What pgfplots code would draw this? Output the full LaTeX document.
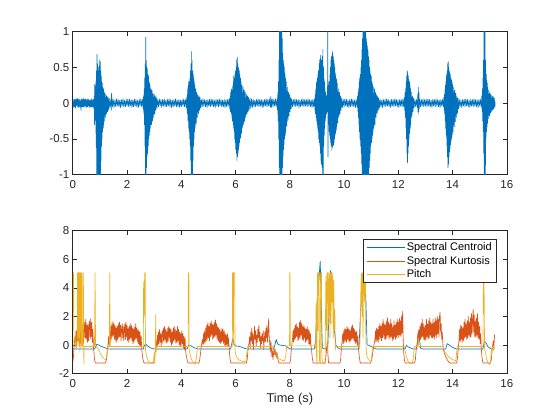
\documentclass[border=0pt]{standalone}
\usepackage{fontspec}
\setmainfont{Liberation Sans}
\usepackage{pgfplots}
\pgfplotsset{compat=1.18}
\definecolor{mblue}{rgb}{0,0.447,0.741}
\definecolor{morange}{rgb}{0.85,0.325,0.098}
\definecolor{myellow}{rgb}{0.929,0.694,0.125}
\definecolor{axc}{rgb}{0.15,0.15,0.15}
\pgfplotsset{
  mlab/.style={
    scale only axis, width=434pt, height=143.3pt,
    xmin=0, xmax=16, xtick={0,2,...,16},
    axis line style={draw=axc, line width=0.6pt},
    tick style={draw=axc, line width=0.6pt},
    major tick length=4.3pt,
    tick label style={font=\fontsize{11.5}{13}\selectfont, text=axc},
    /pgf/number format/assume math mode=true,
    xticklabel style={yshift=-2.5pt},
    every axis plot/.append style={line width=0.65pt, line join=round},
    clip=true,
  }
}
\begin{document}
\begin{tikzpicture}
\path[use as bounding box] (0,0) rectangle (560pt,420pt);
\begin{axis}[mlab, at={(72.8pt,245.2pt)}, anchor=south west,
  ymin=-1, ymax=1, ytick={-1,-0.5,0,0.5,1}, yticklabels={-1,-0.5,0,0.5,1}]
\addplot[mblue] coordinates {
(0,0.02)(0.02,-0.06)(0.04,0.06)(0.06,-0.05)(0.08,0.05)(0.1,-0.07)(0.12,0.06)(0.14,-0.04)(0.16,0.07)(0.18,-0.05)(0.2,0.05)(0.22,-0.06)(0.24,0.06)(0.26,-0.05)(0.28,0.04)(0.3,-0.1)(0.32,0.06)(0.34,-0.05)(0.36,0.05)(0.38,-0.06)(0.4,0.07)(0.42,-0.05)(0.44,0.05)(0.46,-0.04)(0.48,0.06)(0.5,-0.06)(0.52,0.05)(0.54,-0.05)(0.56,0.06)(0.58,-0.04)(0.6,0.05)(0.62,-0.06)(0.64,0.04)(0.66,-0.05)(0.68,0.06)(0.7,-0.05)(0.72,0.05)(0.74,-0.06)(0.76,0.05)
(0.78,-0.08)(0.79,0.1)(0.8,-0.3)(0.81,0.26)(0.82,-0.2)(0.83,0.15)(0.84,-0.25)(0.85,0.3)(0.86,-0.6)(0.87,0.45)(0.88,-1.2)(0.89,0.68)(0.9,-1.2)(0.91,0.55)(0.92,-1.2)(0.93,0.5)(0.94,-1.2)(0.95,0.45)(0.96,-1.2)(0.97,0.52)(0.98,-1.2)(0.99,0.6)(1.0,-1.2)(1.01,0.58)(1.02,-1.1)(1.03,0.45)(1.04,-0.8)(1.05,0.38)(1.06,-0.6)(1.07,0.3)(1.08,-0.5)(1.09,0.28)(1.1,-0.4)(1.11,0.22)(1.12,-0.35)(1.13,0.2)(1.14,-0.3)(1.15,0.16)(1.16,-0.25)(1.18,0.14)(1.2,-0.2)(1.22,0.12)(1.24,-0.15)(1.26,0.1)(1.28,-0.12)(1.3,0.08)(1.32,-0.1)(1.34,0.07)
(1.37,-0.06)(1.4,0.05)(1.42,-0.1)(1.43,0.14)(1.46,-0.05)(1.49,0.05)(1.52,-0.06)(1.55,0.04)(1.58,-0.05)(1.61,0.06)(1.64,-0.04)(1.67,0.05)(1.7,-0.05)(1.73,0.04)(1.76,-0.06)(1.79,0.05)(1.82,-0.04)(1.85,0.06)(1.88,-0.05)(1.91,0.04)(1.94,-0.05)(1.97,0.05)(2.0,-0.04)(2.03,0.06)(2.06,-0.05)(2.09,0.05)(2.12,-0.04)(2.15,0.05)(2.18,-0.06)(2.21,0.04)(2.24,-0.05)(2.27,0.06)(2.3,-0.04)(2.33,0.05)(2.36,-0.05)(2.39,0.04)(2.42,-0.06)(2.45,0.05)(2.48,-0.04)(2.51,0.06)(2.54,-0.05)(2.57,0.05)
(2.6,-0.08)(2.61,0.1)(2.62,-0.15)(2.63,0.2)(2.64,-0.3)(2.65,0.35)(2.66,-0.6)(2.67,0.55)(2.68,-1.2)(2.69,0.92)(2.7,-1.2)(2.71,0.6)(2.72,-0.9)(2.73,0.5)(2.74,-0.75)(2.75,0.48)(2.76,-0.7)(2.77,0.4)(2.78,-0.6)(2.79,0.38)(2.8,-0.5)(2.81,0.3)(2.82,-0.45)(2.83,0.28)(2.84,-0.4)(2.85,0.25)(2.86,-0.35)(2.88,0.2)(2.9,-0.3)(2.92,0.18)(2.94,-0.25)(2.96,0.14)(2.98,-0.2)(3.0,0.12)(3.02,-0.15)(3.04,0.1)(3.06,-0.1)(3.08,0.08)(3.1,-0.07)
(3.13,0.05)(3.16,-0.05)(3.19,0.06)(3.22,-0.04)(3.25,0.05)(3.28,-0.06)(3.31,0.05)(3.34,-0.04)(3.37,0.06)(3.4,-0.05)(3.43,0.04)(3.46,-0.05)(3.49,0.05)(3.52,-0.04)(3.55,0.06)(3.58,-0.05)(3.61,0.05)(3.64,-0.06)(3.67,0.04)(3.7,-0.05)(3.73,0.05)(3.76,-0.04)(3.79,0.06)(3.82,-0.05)(3.85,0.04)(3.88,-0.05)(3.91,0.05)(3.94,-0.06)(3.97,0.04)(4.0,-0.05)(4.03,0.05)(4.06,-0.04)(4.09,0.06)(4.12,-0.05)(4.15,0.05)(4.18,-0.06)
(4.2,0.08)(4.21,-0.1)(4.22,0.12)(4.23,-0.15)(4.24,0.2)(4.25,-0.25)(4.26,0.3)(4.27,-0.35)(4.28,0.25)(4.29,-0.4)(4.3,0.3)(4.31,-0.5)(4.32,0.35)(4.33,-0.6)(4.34,0.45)(4.35,-0.8)(4.36,0.55)(4.37,-1.2)(4.38,0.72)(4.39,-1.2)(4.4,0.6)(4.41,-1.2)(4.42,0.45)(4.43,-0.8)(4.44,0.4)(4.45,-0.6)(4.46,0.35)(4.47,-0.5)(4.48,0.3)(4.49,-0.4)(4.5,0.25)(4.51,-0.35)(4.53,0.2)(4.55,-0.28)(4.57,0.15)(4.59,-0.2)(4.61,0.12)(4.63,-0.15)(4.65,0.1)(4.67,-0.1)(4.69,0.08)(4.71,-0.07)
(4.74,0.05)(4.77,-0.05)(4.8,0.06)(4.83,-0.04)(4.86,0.05)(4.89,-0.05)(4.92,0.04)(4.95,-0.06)(4.98,0.05)(5.01,-0.04)(5.04,0.05)(5.07,-0.05)(5.1,0.06)(5.13,-0.04)(5.16,0.05)(5.19,-0.05)(5.22,0.04)(5.25,-0.06)(5.28,0.05)(5.31,-0.04)(5.34,0.05)(5.37,-0.05)(5.4,0.06)(5.43,-0.04)(5.46,0.05)(5.49,-0.05)(5.52,0.04)(5.55,-0.05)(5.58,0.05)(5.61,-0.06)(5.64,0.04)(5.67,-0.05)(5.7,0.05)(5.73,-0.04)(5.76,0.06)
(5.79,-0.08)(5.8,0.1)(5.81,-0.12)(5.82,0.15)(5.83,-0.12)(5.84,0.2)(5.85,-0.15)(5.86,0.18)(5.87,-0.2)(5.88,0.15)(5.89,-0.25)(5.9,0.25)(5.91,-0.3)(5.92,0.38)(5.93,-0.35)(5.94,0.3)(5.95,-0.4)(5.96,0.35)(5.97,-0.5)(5.98,0.4)(5.99,-0.55)(6.0,0.45)(6.01,-0.65)(6.02,0.5)(6.03,-0.7)(6.04,0.6)(6.05,-0.8)(6.06,0.64)(6.07,-0.75)(6.08,0.55)(6.09,-0.7)(6.1,0.5)(6.11,-0.65)(6.12,0.48)(6.13,-0.6)(6.14,0.45)(6.15,-0.55)(6.16,0.4)(6.17,-0.5)(6.18,0.35)(6.19,-0.48)(6.2,0.3)(6.22,-0.42)(6.24,0.25)(6.26,-0.35)(6.28,0.22)(6.3,-0.3)(6.32,0.18)(6.34,-0.25)(6.36,0.15)(6.38,-0.2)(6.4,0.12)(6.42,-0.15)(6.44,0.1)(6.46,-0.12)(6.48,0.08)(6.5,-0.1)(6.53,0.07)(6.56,-0.07)(6.59,0.06)(6.62,-0.06)
(6.65,0.05)(6.68,-0.05)(6.71,0.04)(6.74,-0.05)(6.77,0.05)(6.8,-0.04)(6.83,0.06)(6.86,-0.05)(6.89,0.05)(6.92,-0.04)(6.95,0.05)(6.98,-0.06)(7.01,0.04)(7.04,-0.05)(7.07,0.05)(7.1,-0.04)(7.13,0.06)(7.16,-0.05)(7.19,0.05)(7.22,-0.04)(7.25,0.06)(7.28,-0.06)(7.3,0.09)(7.32,-0.06)(7.35,0.06)(7.38,-0.05)(7.41,0.05)(7.44,-0.04)(7.47,0.06)(7.5,-0.05)(7.53,0.06)
(7.55,-0.1)(7.56,0.15)(7.57,-0.25)(7.58,0.3)(7.59,-0.5)(7.6,0.6)(7.61,-0.9)(7.62,1.2)(7.63,-1.2)(7.64,1.2)(7.65,-1.2)(7.66,1.2)(7.67,-1.2)(7.68,1.2)(7.69,-1.2)(7.7,1.2)(7.71,-1.2)(7.72,0.9)(7.73,-0.9)(7.74,0.7)(7.75,-0.75)(7.76,0.6)(7.77,-0.65)(7.78,0.55)(7.79,-0.58)(7.8,0.5)(7.81,-0.5)(7.82,0.42)(7.83,-0.45)(7.84,0.35)(7.85,-0.4)(7.87,0.3)(7.89,-0.32)(7.91,0.22)(7.93,-0.25)(7.95,0.15)(7.97,-0.18)(7.99,0.12)(8.01,-0.12)(8.03,0.08)(8.05,-0.08)(8.07,0.06)
(8.1,-0.05)(8.13,0.05)(8.16,-0.04)(8.19,0.06)(8.22,-0.05)(8.25,0.05)(8.28,-0.04)(8.31,0.05)(8.34,-0.06)(8.37,0.04)(8.4,-0.05)(8.43,0.05)(8.46,-0.04)(8.49,0.06)(8.52,-0.05)(8.55,0.05)(8.58,-0.04)(8.61,0.05)(8.64,-0.05)(8.67,0.06)(8.7,-0.04)(8.73,0.05)(8.76,-0.05)(8.79,0.04)(8.82,-0.06)(8.85,0.05)(8.88,-0.05)(8.91,0.06)
(8.93,-0.1)(8.94,0.12)(8.95,-0.15)(8.96,0.2)(8.97,-0.2)(8.98,0.3)(8.99,-0.25)(9.0,0.28)(9.01,-0.3)(9.02,0.35)(9.03,-0.35)(9.04,0.4)(9.05,-0.4)(9.06,0.45)(9.07,-0.5)(9.08,0.55)(9.09,-0.55)(9.1,0.6)(9.11,-0.6)(9.12,0.62)(9.13,-0.7)(9.14,0.67)(9.15,-0.8)(9.16,0.55)(9.17,-0.85)(9.18,0.6)(9.19,-0.9)(9.2,0.65)(9.21,-1.2)(9.22,0.75)(9.23,-1.2)(9.24,0.5)(9.25,-0.6)(9.26,0.35)(9.27,-0.45)(9.28,0.3)(9.29,-0.35)(9.3,0.2)(9.31,-0.25)(9.32,0.15)(9.33,-0.2)(9.34,0.12)(9.35,-0.15)(9.36,0.1)(9.37,-0.12)(9.38,0.08)(9.39,-0.1)(9.4,1.2)(9.41,-0.75)(9.42,0.3)
(9.43,-0.3)(9.44,0.25)(9.45,-0.4)(9.46,0.3)(9.47,-0.45)(9.48,0.4)(9.49,-0.5)(9.5,0.5)(9.51,-0.55)(9.52,0.6)(9.53,-0.6)(9.54,0.65)(9.55,-0.66)(9.56,0.7)(9.57,-0.62)(9.58,0.72)(9.59,-0.6)(9.6,0.65)(9.61,-0.58)(9.62,0.6)(9.63,-0.55)(9.64,0.55)(9.65,-0.5)(9.66,0.5)(9.67,-0.45)(9.68,0.42)(9.69,-0.42)(9.7,0.38)(9.71,-0.38)(9.72,0.33)(9.73,-0.33)(9.75,0.28)(9.77,-0.28)(9.79,0.2)(9.81,-0.2)(9.83,0.15)(9.85,-0.15)(9.87,0.1)(9.89,-0.1)(9.91,0.07)
(9.94,-0.06)(9.97,0.05)(10.0,-0.05)(10.03,0.06)(10.06,-0.04)(10.09,0.05)(10.12,-0.05)(10.15,0.04)(10.18,-0.06)(10.21,0.05)(10.24,-0.05)(10.27,0.06)(10.3,-0.04)(10.33,0.05)(10.36,-0.05)(10.39,0.04)(10.42,-0.06)(10.45,0.05)(10.48,-0.05)
(10.5,0.1)(10.51,-0.12)(10.52,0.15)(10.53,-0.2)(10.54,0.2)(10.55,-0.3)(10.56,0.3)(10.57,-0.4)(10.58,0.35)(10.59,-0.5)(10.6,0.4)(10.61,-0.6)(10.62,0.5)(10.63,-0.7)(10.64,0.6)(10.65,-0.85)(10.66,0.75)(10.67,-1.2)(10.68,0.9)(10.69,-1.2)(10.7,1.2)(10.71,-1.2)(10.72,1.2)(10.73,-1.2)(10.74,1.2)(10.75,-1.2)(10.76,1.2)(10.77,-1.2)(10.78,1.1)(10.79,-1.2)(10.8,1.0)(10.81,-1.2)(10.82,0.9)(10.83,-1.2)(10.84,0.85)(10.85,-1.2)(10.86,0.8)(10.87,-1.2)(10.88,0.75)(10.89,-1.2)(10.9,0.65)(10.91,-1.2)(10.92,0.6)(10.93,-0.9)(10.94,0.5)(10.95,-0.8)(10.96,0.45)(10.97,-0.7)(10.98,0.4)(10.99,-0.6)(11.0,0.38)(11.01,-0.55)(11.02,0.3)(11.03,-0.5)(11.04,0.28)(11.05,-0.45)(11.06,0.25)(11.07,-0.4)(11.08,0.22)(11.1,-0.35)(11.12,0.2)(11.14,-0.3)(11.16,0.15)(11.18,-0.2)(11.2,0.12)(11.22,-0.15)(11.24,0.1)(11.26,-0.1)(11.28,0.07)(11.3,-0.07)
(11.33,0.05)(11.36,-0.05)(11.39,0.04)(11.42,-0.06)(11.45,0.05)(11.48,-0.04)(11.51,0.05)(11.54,-0.05)(11.57,0.06)(11.6,-0.04)(11.63,0.05)(11.66,-0.05)(11.69,0.04)(11.72,-0.06)(11.75,0.05)(11.78,-0.04)(11.81,0.05)(11.84,-0.05)(11.87,0.06)(11.9,-0.04)(11.93,0.05)(11.96,-0.05)(11.99,0.04)(12.02,-0.06)(12.05,0.05)(12.08,-0.04)(12.11,0.05)(12.14,-0.05)(12.17,0.06)(12.2,-0.05)
(12.23,0.08)(12.24,-0.1)(12.25,0.15)(12.26,-0.2)(12.27,0.2)(12.28,-0.35)(12.29,0.3)(12.3,-0.5)(12.31,0.38)(12.32,-0.7)(12.33,0.45)(12.34,-0.83)(12.35,0.42)(12.36,-0.7)(12.37,0.38)(12.38,-0.6)(12.39,0.33)(12.4,-0.5)(12.41,0.3)(12.42,-0.42)(12.43,0.25)(12.44,-0.35)(12.45,0.2)(12.46,-0.3)(12.48,0.15)(12.5,-0.2)(12.52,0.1)(12.54,-0.12)(12.56,0.07)(12.58,-0.07)
(12.61,0.05)(12.64,-0.05)(12.67,0.05)(12.7,-0.06)(12.72,0.12)(12.73,-0.15)(12.74,0.22)(12.75,-0.12)(12.76,0.15)(12.77,-0.08)(12.79,0.06)(12.82,-0.05)(12.85,0.05)(12.88,-0.04)(12.91,0.06)(12.94,-0.05)(12.97,0.05)(13.0,-0.04)(13.03,0.05)(13.06,-0.05)(13.09,0.06)(13.12,-0.04)(13.15,0.05)(13.18,-0.05)(13.21,0.04)(13.24,-0.06)(13.27,0.05)(13.3,-0.04)(13.33,0.05)(13.36,-0.05)(13.39,0.06)(13.42,-0.04)(13.45,0.05)(13.48,-0.05)(13.51,0.04)(13.54,-0.06)(13.57,0.05)(13.6,-0.04)(13.63,0.05)(13.66,-0.05)
(13.68,0.08)(13.69,-0.1)(13.7,0.12)(13.71,-0.15)(13.72,0.18)(13.73,-0.25)(13.74,0.25)(13.75,-0.35)(13.76,0.3)(13.77,-0.45)(13.78,0.4)(13.79,-0.6)(13.8,0.45)(13.81,-0.75)(13.82,0.55)(13.83,-0.9)(13.84,0.58)(13.85,-0.85)(13.86,0.5)(13.87,-0.75)(13.88,0.45)(13.89,-0.68)(13.9,0.42)(13.91,-0.62)(13.92,0.4)(13.93,-0.58)(13.94,0.35)(13.95,-0.52)(13.96,0.32)(13.97,-0.48)(13.98,0.3)(13.99,-0.44)(14.0,0.26)(14.02,-0.4)(14.04,0.22)(14.06,-0.33)(14.08,0.18)(14.1,-0.26)(14.12,0.14)(14.14,-0.2)(14.16,0.1)(14.18,-0.14)(14.2,0.07)(14.22,-0.08)
(14.25,0.05)(14.28,-0.05)(14.31,0.04)(14.34,-0.06)(14.37,0.05)(14.4,-0.04)(14.43,0.05)(14.46,-0.05)(14.49,0.06)(14.52,-0.04)(14.55,0.05)(14.58,-0.05)(14.61,0.04)(14.64,-0.06)(14.67,0.05)(14.7,-0.04)(14.73,0.05)(14.76,-0.05)(14.79,0.06)(14.82,-0.04)(14.85,0.05)(14.88,-0.05)(14.91,0.04)(14.94,-0.06)(14.97,0.05)(15.0,-0.04)(15.03,0.05)(15.06,-0.05)
(15.08,0.1)(15.09,-0.12)(15.1,0.2)(15.11,-0.25)(15.12,0.35)(15.13,-0.4)(15.14,0.6)(15.15,-0.7)(15.16,1.2)(15.17,-1.2)(15.18,1.2)(15.19,-1.2)(15.2,1.2)(15.21,-1.2)(15.22,0.6)(15.23,-0.5)(15.24,0.4)(15.25,-0.4)(15.26,0.32)(15.27,-0.33)(15.28,0.28)(15.29,-0.28)(15.3,0.22)(15.32,-0.22)(15.34,0.18)(15.36,-0.18)(15.38,0.14)(15.4,-0.14)(15.42,0.12)(15.44,-0.12)(15.46,0.1)(15.48,-0.1)(15.5,0.09)(15.52,-0.08)(15.54,0.07)(15.56,-0.06)(15.57,0.02)
};
\end{axis}
\begin{axis}[mlab, at={(72.8pt,46.2pt)}, anchor=south west,
  ymin=-2, ymax=8, ytick={-2,0,2,4,6,8}, yticklabels={-2,0,2,4,6,8},
  xlabel={Time (s)},
  xlabel style={font=\fontsize{12.8}{14}\selectfont, text=axc, yshift=2pt},
  legend style={at={(0.977,0.941)}, anchor=north east, draw=axc, line width=0.5pt,
    font=\fontsize{11}{13}\selectfont, inner xsep=3pt, inner ysep=2pt,
    row sep=0pt, nodes={inner sep=1.8pt}},
  legend cell align=left,
  legend image code/.code={\draw[#1, line width=0.6pt] (0pt,0pt) -- (38pt,0pt);}]
\addplot[mblue] coordinates {
(0,-0.27)(0.8,-0.27)(0.85,-0.1)(0.88,0.05)(0.95,0.02)(1.0,-0.05)(1.1,-0.12)(1.2,-0.2)(1.3,-0.26)(1.4,-0.27)(2.6,-0.27)(2.64,0.0)(2.7,0.05)(2.75,-0.05)(2.85,-0.18)(2.95,-0.25)(3.05,-0.27)(4.22,-0.27)(4.26,0.0)(4.32,0.0)(4.4,-0.1)(4.5,-0.2)(4.6,-0.26)(4.7,-0.27)(5.82,-0.27)(5.86,0.1)(5.9,0.45)(5.94,0.1)(6.0,-0.05)(6.1,-0.08)(6.2,-0.12)(6.3,-0.2)(6.4,-0.26)(6.5,-0.27)(7.4,-0.27)(7.45,0.0)(7.5,0.4)(7.53,0.2)(7.57,0.05)(7.65,0.0)(7.75,-0.02)(7.85,-0.05)(7.95,-0.2)(8.02,-0.27)(8.9,-0.27)(8.95,0.3)(9.0,2.5)(9.03,4.0)(9.07,4.5)(9.1,5.3)(9.12,5.85)(9.15,4.0)(9.18,1.0)(9.2,-0.2)(9.3,-0.27)(9.4,-0.2)(9.45,2.5)(9.48,4.8)(9.5,5.2)(9.53,5.0)(9.56,4.7)(9.6,3.0)(9.65,1.0)(9.7,0.0)(9.78,-0.2)(9.85,-0.27)(10.55,-0.27)(10.6,2.0)(10.65,3.5)(10.7,4.6)(10.75,4.8)(10.8,3.5)(10.85,0.0)(10.9,0.0)(11.0,-0.1)(11.1,-0.2)(11.2,-0.27)(12.25,-0.27)(12.3,0.0)(12.35,-0.1)(12.45,-0.2)(12.55,-0.27)(12.68,-0.27)(12.72,0.5)(12.75,1.0)(12.78,0.4)(12.82,-0.2)(12.9,-0.27)(13.75,-0.27)(13.8,0.1)(13.85,0.05)(13.95,-0.1)(14.05,-0.2)(14.15,-0.27)(15.12,-0.27)(15.17,0.25)(15.22,0.2)(15.3,-0.1)(15.4,-0.25)(15.55,-0.27)
};
\addlegendentry{Spectral Centroid}
\addplot[morange] coordinates {
(0,-1.2)(0.02,-0.9)(0.04,-0.3)(0.06,0.2)(0.08,0.6)
(0.1,0.2)(0.12,1.0)(0.14,0.0)(0.16,1.1)(0.18,0.3)(0.2,1.3)(0.22,0.4)(0.24,-0.1)(0.26,0.9)(0.28,0.1)(0.3,1.2)(0.32,0.3)(0.34,1.5)(0.36,0.4)(0.38,1.2)(0.4,0.1)(0.42,1.0)(0.44,1.6)(0.46,0.5)(0.48,1.8)(0.5,0.4)(0.52,1.4)(0.54,0.2)(0.56,1.5)(0.58,0.3)(0.6,1.3)(0.62,1.7)(0.64,0.4)(0.66,1.85)(0.68,0.6)(0.7,1.6)(0.72,0.2)(0.74,1.1)(0.76,-0.1)(0.78,-0.5)(0.8,-1.0)(0.83,-1.25)
(1.2,-1.25)(1.24,-1.0)(1.27,-0.4)(1.3,0.1)
(1.32,0.6)(1.34,0.0)(1.36,1.0)(1.38,0.2)(1.4,1.3)(1.42,0.4)(1.44,1.5)(1.46,0.6)(1.48,1.65)(1.5,0.7)(1.52,1.5)(1.54,0.4)(1.56,1.4)(1.58,0.3)(1.6,1.2)(1.62,0.2)(1.64,1.3)(1.66,0.4)(1.68,1.5)(1.7,0.5)(1.72,1.6)(1.74,0.6)(1.76,1.4)(1.78,0.3)(1.8,1.2)(1.82,1.5)(1.84,0.5)(1.86,1.3)(1.88,0.3)(1.9,1.1)(1.92,1.5)(1.94,0.4)(1.96,1.6)(1.98,0.6)(2.0,1.4)(2.02,0.3)(2.04,1.2)(2.06,0.2)(2.08,1.3)(2.1,0.4)(2.12,1.5)(2.14,0.5)(2.16,1.4)(2.18,0.3)(2.2,1.2)(2.22,0.1)(2.24,1.1)(2.26,0.2)(2.28,1.3)(2.3,0.4)(2.32,1.5)(2.34,0.5)(2.36,1.2)(2.38,0.2)(2.4,1.1)(2.42,0.1)(2.44,1.0)(2.46,0.0)(2.48,0.9)(2.5,-0.1)(2.52,0.6)(2.54,-0.2)(2.57,-0.8)(2.6,-1.1)(2.63,-1.25)
(2.98,-1.25)(3.0,-1.1)(3.03,-0.5)(3.06,0.0)(3.08,0.3)
(3.1,-0.1)(3.12,0.7)(3.14,0.0)(3.16,0.9)(3.18,0.1)(3.2,1.1)(3.22,0.2)(3.24,0.8)(3.26,-0.1)(3.28,0.7)(3.3,1.0)(3.32,0.1)(3.34,1.2)(3.36,0.3)(3.38,1.3)(3.4,0.4)(3.42,1.1)(3.44,0.1)(3.46,1.0)(3.48,0.2)(3.5,1.2)(3.52,0.3)(3.54,1.3)(3.56,0.5)(3.58,1.2)(3.6,0.2)(3.62,1.1)(3.64,0.0)(3.66,0.9)(3.68,0.1)(3.7,1.2)(3.72,0.3)(3.74,1.3)(3.76,0.4)(3.78,1.1)(3.8,0.1)(3.82,1.0)(3.84,0.2)(3.86,1.3)(3.88,0.3)(3.9,1.1)(3.92,0.0)(3.94,0.9)(3.96,-0.1)(3.98,0.8)(4.0,0.0)(4.02,1.0)(4.04,0.1)(4.06,0.8)(4.08,-0.2)(4.1,0.6)(4.12,-0.3)(4.14,0.5)(4.16,-0.4)(4.19,-0.8)(4.22,-1.1)(4.25,-1.25)
(4.65,-1.25)(4.68,-1.0)(4.72,-0.4)(4.75,0.1)(4.78,0.4)
(4.8,0.0)(4.82,0.8)(4.84,0.1)(4.86,1.0)(4.88,0.2)(4.9,1.2)(4.92,0.3)(4.94,1.4)(4.96,0.4)(4.98,1.6)(5.0,0.5)(5.02,1.3)(5.04,0.3)(5.06,1.5)(5.08,0.6)(5.1,1.7)(5.12,0.7)(5.14,1.5)(5.16,0.4)(5.18,1.4)(5.2,0.5)(5.22,1.6)(5.24,0.6)(5.26,1.75)(5.28,0.7)(5.3,1.5)(5.32,0.4)(5.34,1.3)(5.36,0.3)(5.38,1.2)(5.4,0.2)(5.42,1.1)(5.44,0.1)(5.46,1.0)(5.48,0.2)(5.5,1.2)(5.52,0.3)(5.54,1.1)(5.56,0.1)(5.58,1.0)(5.6,0.0)(5.62,0.8)(5.64,-0.1)(5.66,0.7)(5.68,0.0)(5.7,0.8)(5.72,-0.1)(5.74,0.5)(5.76,-0.1)(5.78,-0.6)(5.8,-1.0)(5.83,-1.25)
(6.4,-1.25)(6.43,-1.0)(6.46,-0.3)(6.5,0.2)
(6.52,0.6)(6.54,-0.2)(6.56,0.9)(6.58,0.3)(6.6,1.2)(6.62,0.1)(6.64,0.8)(6.66,-0.3)(6.68,0.5)(6.7,1.3)(6.72,0.4)(6.74,1.0)(6.76,-0.1)(6.78,0.7)(6.8,0.2)(6.82,1.1)(6.84,0.5)(6.86,1.4)(6.88,0.3)(6.9,0.9)(6.92,-0.2)(6.94,0.6)(6.96,0.1)(6.98,0.8)(7.0,0.3)(7.02,1.0)(7.04,-0.3)(7.06,0.4)(7.08,0.9)(7.1,0.2)(7.12,1.2)(7.14,0.5)(7.16,1.4)(7.18,0.2)(7.2,0.8)(7.22,1.85)(7.24,0.6)(7.26,0.1)(7.28,-0.5)(7.3,0.3)(7.32,-0.2)(7.34,-0.8)(7.36,-0.4)(7.38,-1.0)(7.4,-0.6)(7.42,-0.2)(7.45,-0.7)(7.48,-0.3)(7.5,-0.9)(7.53,-0.5)(7.56,-1.0)(7.6,-1.25)
(8.0,-1.25)(8.03,-1.0)(8.06,-0.2)(8.1,0.4)
(8.12,1.0)(8.14,0.2)(8.16,1.2)(8.18,0.4)(8.2,1.4)(8.22,0.5)(8.24,1.5)(8.26,0.6)(8.28,1.3)(8.3,0.3)(8.32,1.2)(8.34,0.4)(8.36,1.6)(8.38,0.5)(8.4,1.75)(8.42,0.7)(8.44,1.5)(8.46,0.4)(8.48,1.3)(8.5,0.3)(8.52,1.4)(8.54,0.5)(8.56,1.2)(8.58,0.2)(8.6,1.1)(8.62,0.3)(8.64,1.3)(8.66,0.4)(8.68,1.1)(8.7,0.1)(8.72,1.0)(8.74,0.0)(8.76,0.8)(8.78,0.0)(8.8,-0.3)(8.83,-0.9)(8.86,-1.25)
(9.3,-1.25)(9.33,-0.8)(9.36,-0.2)(9.38,0.3)(9.4,-0.5)(9.43,-1.25)
(9.85,-1.25)(9.88,-0.9)(9.9,-0.2)(9.93,0.3)
(9.95,0.8)(9.97,0.1)(9.99,1.0)(10.01,0.2)(10.03,1.2)(10.05,0.3)(10.07,1.1)(10.09,0.2)(10.11,1.3)(10.13,0.4)(10.15,1.2)(10.17,0.3)(10.19,1.1)(10.21,0.2)(10.23,1.0)(10.25,0.3)(10.27,1.3)(10.29,0.4)(10.31,1.4)(10.33,0.5)(10.35,1.2)(10.37,0.3)(10.39,1.1)(10.41,0.1)(10.43,0.9)(10.45,0.2)(10.47,1.0)(10.49,0.0)(10.51,0.6)(10.53,-0.2)(10.56,-0.8)(10.6,-1.25)
(10.98,-1.25)(11.02,-1.0)(11.06,-0.5)(11.1,0.0)(11.14,0.4)
(11.16,1.0)(11.18,0.2)(11.2,1.2)(11.22,0.3)(11.24,1.1)(11.26,0.2)(11.28,1.3)(11.3,0.4)(11.32,1.5)(11.34,0.5)(11.36,1.3)(11.38,0.3)(11.4,1.5)(11.42,0.5)(11.44,1.8)(11.46,0.6)(11.48,1.5)(11.5,0.4)(11.52,1.4)(11.54,0.4)(11.56,1.7)(11.58,0.5)(11.6,1.9)(11.62,0.7)(11.64,1.6)(11.66,0.4)(11.68,1.5)(11.7,0.5)(11.72,1.8)(11.74,0.6)(11.76,1.5)(11.78,0.3)(11.8,1.3)(11.82,0.4)(11.84,1.7)(11.86,0.6)(11.88,1.4)(11.9,0.4)(11.92,1.6)(11.94,0.5)(11.96,1.8)(11.98,0.7)(12.0,1.6)(12.02,0.5)(12.04,1.9)(12.06,0.7)(12.08,1.7)(12.1,0.6)(12.12,2.0)(12.14,0.8)(12.16,2.35)(12.18,0.5)(12.2,-0.5)(12.23,-1.1)(12.26,-1.25)
(12.6,-1.25)(12.63,-1.0)(12.66,-0.3)(12.7,0.2)
(12.72,0.8)(12.74,0.1)(12.76,1.1)(12.78,0.3)(12.8,1.3)(12.82,0.4)(12.84,1.5)(12.86,0.5)(12.88,1.8)(12.9,0.6)(12.92,1.5)(12.94,0.4)(12.96,1.3)(12.98,0.3)(13.0,1.4)(13.02,0.4)(13.04,1.8)(13.06,0.6)(13.08,1.5)(13.1,0.4)(13.12,1.7)(13.14,0.5)(13.16,1.9)(13.18,0.7)(13.2,1.6)(13.22,0.5)(13.24,1.5)(13.26,0.5)(13.28,1.8)(13.3,0.6)(13.32,1.6)(13.34,0.4)(13.36,1.9)(13.38,0.7)(13.4,1.7)(13.42,0.5)(13.44,2.0)(13.46,0.8)(13.48,1.8)(13.5,0.6)(13.52,2.0)(13.54,2.3)(13.56,0.9)(13.58,1.5)(13.6,0.4)(13.62,0.9)(13.64,0.2)(13.66,-0.3)(13.7,-0.6)(13.75,-0.8)(13.8,-1.0)(13.85,-1.15)(13.9,-1.25)
(14.15,-1.25)(14.18,-0.9)(14.21,-0.2)(14.24,0.4)
(14.26,1.1)(14.28,0.2)(14.3,1.4)(14.32,0.4)(14.34,1.3)(14.36,0.2)(14.38,1.2)(14.4,0.3)(14.42,1.6)(14.44,0.5)(14.46,1.8)(14.48,0.6)(14.5,1.5)(14.52,0.4)(14.54,1.7)(14.56,0.5)(14.58,2.0)(14.6,0.7)(14.62,1.6)(14.64,0.5)(14.66,1.9)(14.68,0.6)(14.7,2.2)(14.72,0.8)(14.74,1.8)(14.76,2.5)(14.78,0.9)(14.8,2.1)(14.82,0.6)(14.84,1.7)(14.86,0.5)(14.88,1.9)(14.9,0.7)(14.92,2.2)(14.94,0.5)(14.96,1.6)(14.98,0.4)(15.0,1.3)(15.02,0.1)(15.04,0.8)(15.06,-0.3)(15.09,-0.9)(15.12,-1.25)
(15.4,-1.25)(15.43,-1.0)(15.46,-0.3)(15.48,0.0)(15.5,0.3)(15.52,-0.2)(15.54,0.4)(15.55,0.74)
};
\addlegendentry{Spectral Kurtosis}
\addplot[myellow] coordinates {
(0,2.4)(0.01,5.05)(0.03,5.05)(0.04,-0.1)(0.1,-0.1)(0.11,0.8)(0.12,-0.2)(0.16,-0.1)(0.17,5.05)(0.19,5.05)(0.2,0.2)(0.21,5.05)(0.22,0.5)(0.23,5.05)(0.25,5.05)(0.26,-0.5)(0.27,5.05)(0.28,1.0)(0.29,5.05)(0.3,-0.2)(0.31,5.05)(0.32,5.05)(0.33,0.0)(0.36,-0.1)(0.37,5.05)(0.39,5.05)(0.4,-0.2)(0.41,-1.3)(0.42,-0.1)
(0.8,-0.1)(0.82,5.05)(0.84,-0.1)(0.88,-0.15)(0.95,-0.3)(1.0,-0.5)(1.05,-0.7)(1.1,-0.85)(1.15,-0.95)(1.2,-1.0)(1.25,-0.9)(1.28,-0.5)(1.3,-0.1)(1.35,-0.1)(1.36,5.05)(1.38,-0.1)
(2.6,-0.1)(2.61,4.3)(2.63,4.5)(2.64,2.0)(2.65,5.05)(2.67,5.05)(2.68,-0.3)(2.72,-0.8)(2.78,-1.1)(2.85,-1.2)(2.9,-1.25)(2.95,-1.2)(2.98,-1.0)(3.0,-0.6)(3.02,-1.3)(3.04,-0.2)(3.06,2.15)(3.07,-0.5)(3.1,-0.1)
(4.25,-0.1)(4.26,5.05)(4.28,5.05)(4.29,-0.3)(4.32,-0.6)(4.36,-0.9)(4.4,-1.1)(4.45,-1.2)(4.5,-1.3)(4.55,-1.0)(4.58,-0.4)(4.6,-0.1)
(5.88,-0.1)(5.89,5.05)(5.91,5.05)(5.92,0.0)(5.93,5.05)(5.97,5.05)(5.98,-0.3)(6.0,-0.6)(6.05,-0.85)(6.1,-1.0)(6.2,-1.1)(6.3,-1.15)(6.38,-1.1)(6.42,-0.5)(6.45,-0.1)
(7.4,-0.1)(7.45,-0.3)(7.5,-0.6)(7.55,-0.8)(7.6,-0.95)(7.7,-1.05)(7.8,-1.1)(7.85,-0.8)(7.88,-0.2)(7.9,-0.05)(7.99,-0.05)(8.0,5.05)(8.01,5.05)(8.02,-0.05)
(8.9,-0.05)(8.95,-0.2)(8.97,3.0)(8.98,-0.5)(9.0,-1.3)(9.02,5.05)(9.04,1.0)(9.05,5.05)(9.08,5.05)(9.09,-1.0)(9.12,-1.3)(9.14,5.05)(9.16,3.0)(9.17,5.05)(9.18,-0.5)(9.2,-1.2)(9.25,-1.3)(9.3,-1.3)(9.33,4.8)(9.35,1.0)(9.37,5.05)(9.39,5.05)(9.4,-0.5)(9.42,5.05)(9.44,2.0)(9.46,5.05)(9.48,0.5)(9.5,5.05)(9.52,1.5)(9.54,5.05)(9.56,3.0)(9.58,5.05)(9.6,0.5)(9.62,4.5)(9.64,1.0)(9.66,2.5)(9.68,-0.3)(9.7,-0.1)(9.75,-0.1)
(10.58,-0.1)(10.6,1.0)(10.62,4.0)(10.64,5.05)(10.66,2.0)(10.68,5.05)(10.7,0.5)(10.72,5.05)(10.74,5.05)(10.75,3.0)(10.77,5.05)(10.79,5.05)(10.8,1.0)(10.82,-0.5)(10.85,-0.8)(10.9,-1.0)(10.95,-1.1)(11.0,-1.1)(11.03,-0.6)(11.05,-0.1)
(12.22,-0.1)(12.25,-0.4)(12.3,-0.8)(12.35,-1.1)(12.4,-1.2)(12.5,-1.3)(12.55,-1.0)(12.58,-0.3)(12.6,-0.1)(12.72,-0.1)(12.74,0.5)(12.76,-0.1)(13.65,-0.1)(13.7,-0.4)(13.75,-0.6)(13.85,-0.8)(13.95,-0.95)(14.05,-1.05)(14.12,-1.1)(14.15,-0.5)(14.18,-0.1)(15.12,-0.1)(15.14,5.05)(15.16,5.05)(15.18,-0.2)(15.22,-0.6)(15.26,-1.0)(15.3,-1.2)(15.35,-1.35)(15.4,-1.2)(15.43,-0.4)(15.46,-0.1)(15.5,-0.4)(15.53,-0.1)(15.55,-0.2)
};
\addlegendentry{Pitch}
\end{axis}
\end{tikzpicture}
\end{document}
